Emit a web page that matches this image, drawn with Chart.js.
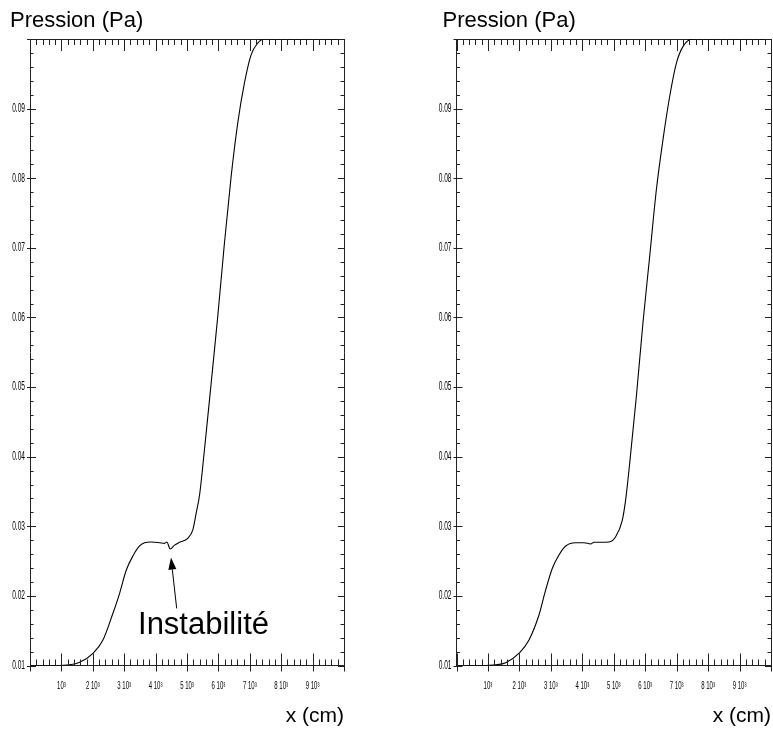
<!DOCTYPE html>
<html><head><meta charset="utf-8">
<script src="https://cdn.jsdelivr.net/npm/chart.js@4/dist/chart.umd.min.js"></script>
<style>
html,body{margin:0;padding:0;background:#fff;}
#wrap{position:relative;width:773px;height:734px;overflow:hidden;}
canvas{position:absolute;top:0;}
#c1{left:0;}
#c2{left:386px;}
</style></head><body>
<div id="wrap">
<canvas id="c1" width="386" height="734"></canvas>
<canvas id="c2" width="387" height="734"></canvas>
</div>
<script>
// ---- data ----
const xLeft = [0, 800, 1265, 1583, 2006, 2324, 2641, 2854, 3067, 3277, 3490, 3649, 3862, 4126, 4285, 4358, 4466, 4603, 4762, 5026, 5185, 5292, 5400, 5556, 5769, 5979, 6192, 6405, 6615, 6828, 7041, 7251, 7464, 10000];
const pLeft = [0.01, 0.01, 0.0101, 0.01046, 0.01175, 0.01366, 0.0175, 0.02037, 0.02372, 0.02573, 0.02717, 0.02764, 0.02774, 0.02764, 0.02755, 0.02774, 0.02674, 0.0273, 0.0277, 0.02828, 0.02947, 0.0319, 0.0345, 0.0410, 0.05055, 0.06011, 0.07066, 0.08023, 0.0879, 0.09365, 0.09772, 0.0994, 0.1, 0.1];
const xRight = [0, 800, 1250, 1564, 2009, 2305, 2622, 2835, 3048, 3258, 3471, 3789, 4053, 4266, 4371, 4638, 4847, 5060, 5273, 5378, 5506, 5718, 5928, 6141, 6354, 6564, 6777, 6990, 7200, 7517, 10000];
const pRight = [0.01, 0.01, 0.0101, 0.0104, 0.01184, 0.01366, 0.01725, 0.02085, 0.02397, 0.02588, 0.02717, 0.02764, 0.02764, 0.02746, 0.0277, 0.0277, 0.02774, 0.0285, 0.0309, 0.0338, 0.039, 0.0486, 0.0592, 0.0687, 0.0783, 0.0855, 0.0917, 0.0965, 0.0989, 0.1, 0.1];
const xTickLabels = ['', '10³', '2 10³', '3 10³', '4 10³', '5 10³', '6 10³', '7 10³', '8 10³', '9 10³', ''];
const yTickLabels = ['0.01', '0.02', '0.03', '0.04', '0.05', '0.06', '0.07', '0.08', '0.09', ''];
const xRange = [0, 10000];
const yRange = [0.01, 0.1];
const xSteps = [1000, 200];
const ySteps = [0.01, 0.002];
const yTitle = 'Pression (Pa)';
const xTitle = 'x (cm)';
const noteText = 'Instabilité';
const noteTip = [4490, 0.0255];
const noteTail = [4672, 0.0182];
const noteTextAt = [3440, 0.01453];

// ---- plugins ----
// tick labels of the original use a very narrow stroke font: squeeze them horizontally
const condense = {
  id: 'condense',
  beforeInit(chart, args, o) {
    const ctx = chart.ctx;
    const orig = ctx.fillText.bind(ctx);
    ctx.fillText = function (text, x, y, maxWidth) {
      const f = ctx.font;
      const m = /(\d+(?:\.\d+)?)px/.exec(f);
      if (f.indexOf('Arimo') >= 0 && m) {
        const k = o.factors[String(Math.round(+m[1]))] || 1;
        ctx.save(); ctx.scale(k, 1); orig(text, x / k, y); ctx.restore();
      } else if (maxWidth === undefined) {
        orig(text, x, y);
      } else {
        orig(text, x, y, maxWidth);
      }
    };
  }
};

const tickMarks = {
  id: 'tickMarks',
  afterDraw(chart, args, o) {
    const {ctx, chartArea: a} = chart;
    const xs = chart.scales.x, ys = chart.scales.y;
    ctx.save();
    ctx.strokeStyle = o.color; ctx.lineWidth = 1;
    ctx.beginPath();
    const nx = Math.round((xRange[1] - xRange[0]) / xSteps[1]);
    const per = Math.round(xSteps[0] / xSteps[1]);
    for (let i = 0; i <= nx; i++) {
      const v = xRange[0] + i * xSteps[1];
      const px = Math.round(xs.getPixelForValue(v)) + 0.5;
      const major = i % per === 0;
      ctx.moveTo(px, a.bottom + (major ? 6 : 0));
      ctx.lineTo(px, a.bottom - (major ? 12 : 6));
      ctx.moveTo(px, a.top);
      ctx.lineTo(px, a.top + (major ? 12 : 6));
    }
    const ny = Math.round((yRange[1] - yRange[0]) / ySteps[1]);
    const pery = Math.round(ySteps[0] / ySteps[1]);
    for (let i = 0; i <= ny; i++) {
      const v = yRange[0] + i * ySteps[1];
      const py = Math.round(ys.getPixelForValue(v)) + 0.5;
      const major = i % pery === 0;
      ctx.moveTo(a.left - (major ? 3 : 0), py);
      ctx.lineTo(a.left + (major ? 6 : 3.5), py);
      ctx.moveTo(a.right, py);
      ctx.lineTo(a.right - (major ? 6 : 3.5), py);
    }
    ctx.stroke();
    ctx.restore();
  }
};

const panelTitle = {
  id: 'panelTitle',
  afterDraw(chart, args, o) {
    const {ctx, chartArea: a} = chart;
    ctx.save();
    ctx.fillStyle = '#000';
    ctx.font = o.size + 'px "Liberation Sans", Arial, sans-serif';
    ctx.textAlign = 'left'; ctx.textBaseline = 'alphabetic';
    ctx.fillText(o.text, a.left + o.dx, a.top - o.rise);
    ctx.restore();
  }
};

const note = {
  id: 'note',
  afterDraw(chart, args, o) {
    if (!o.show) return;
    const {ctx} = chart;
    const xs = chart.scales.x, ys = chart.scales.y;
    const tx = xs.getPixelForValue(noteTip[0]), ty = ys.getPixelForValue(noteTip[1]);
    const bx = xs.getPixelForValue(noteTail[0]), by = ys.getPixelForValue(noteTail[1]);
    const ang = Math.atan2(ty - by, tx - bx);
    const L = 12, W = 4;
    ctx.save();
    ctx.strokeStyle = '#000'; ctx.fillStyle = '#000'; ctx.lineWidth = 1;
    const hx = tx - L * Math.cos(ang), hy = ty - L * Math.sin(ang);
    ctx.beginPath(); ctx.moveTo(bx, by); ctx.lineTo(hx, hy); ctx.stroke();
    ctx.beginPath();
    ctx.moveTo(tx, ty);
    ctx.lineTo(hx + W * Math.sin(ang), hy - W * Math.cos(ang));
    ctx.lineTo(hx - W * Math.sin(ang), hy + W * Math.cos(ang));
    ctx.closePath(); ctx.fill();
    ctx.font = '31px "Liberation Sans", Arial, sans-serif';
    ctx.textAlign = 'left'; ctx.textBaseline = 'alphabetic';
    ctx.fillText(noteText, xs.getPixelForValue(noteTextAt[0]), ys.getPixelForValue(noteTextAt[1]));
    ctx.restore();
  }
};

const tickFont = '"Liberation Sans", Arimo, sans-serif';

function makeChart(id, xs, ps, geo, showNote) {
  return new Chart(document.getElementById(id), {
    type: 'scatter',
    data: {
      datasets: [{
        data: xs.map((x, i) => ({x: x, y: ps[i]})),
        showLine: true,
        borderColor: '#000',
        borderWidth: 1.1,
        pointRadius: 0,
        cubicInterpolationMode: 'monotone',
        fill: false
      }]
    },
    options: {
      responsive: false,
      animation: false,
      events: [],
      layout: {padding: {left: 0, right: geo.padRight, top: 39, bottom: 0}},
      plugins: {
        legend: {display: false},
        tooltip: {enabled: false},
        title: {display: false},
        condense: {factors: {'12': 0.55, '10': 0.6}},
        tickMarks: {color: '#222'},
        panelTitle: {text: yTitle, size: 22, dx: geo.titleDx, rise: 12.5},
        note: {show: showNote}
      },
      scales: {
        x: {
          type: 'linear', position: 'bottom', min: xRange[0], max: xRange[1],
          afterFit: s => { s.height = 68.5; },
          grid: {display: false, drawTicks: true, tickLength: 15},
          border: {display: true, color: '#222', width: 1},
          ticks: {
            stepSize: xSteps[0], autoSkip: false, maxRotation: 0, padding: 0,
            color: '#000', font: {family: tickFont, size: 10},
            callback: (v, i) => xTickLabels[i]
          },
          title: {
            display: true, text: xTitle, align: 'end', color: '#000',
            font: {family: '"Liberation Sans", Arial, sans-serif', size: 21},
            padding: {top: 0, bottom: 5}
          }
        },
        x2: {
          type: 'linear', position: 'top', min: xRange[0], max: xRange[1], display: true,
          afterFit: s => { s.height = 0; },
          grid: {display: false, drawTicks: false},
          border: {display: true, color: '#222', width: 1},
          ticks: {display: false}
        },
        y: {
          type: 'linear', position: 'left', min: yRange[0], max: yRange[1],
          afterFit: s => { s.width = geo.yWidth; },
          grid: {display: false, drawTicks: false},
          border: {display: true, color: '#222', width: 1},
          ticks: {
            stepSize: ySteps[0], autoSkip: false, padding: 5,
            color: '#000', font: {family: tickFont, size: 12},
            callback: (v, i) => yTickLabels[i]
          }
        },
        y2: {
          type: 'linear', position: 'right', min: yRange[0], max: yRange[1], display: true,
          afterFit: s => { s.width = 0; },
          grid: {display: false, drawTicks: false},
          border: {display: true, color: '#222', width: 1},
          ticks: {display: false}
        }
      }
    },
    plugins: [condense, tickMarks, panelTitle, note]
  });
}

makeChart('c1', xLeft, pLeft, {padRight: 42, yWidth: 30, titleDx: -20}, true);
makeChart('c2', xRight, pRight, {padRight: 2, yWidth: 70.5, titleDx: -14}, false);
</script>
</body></html>
